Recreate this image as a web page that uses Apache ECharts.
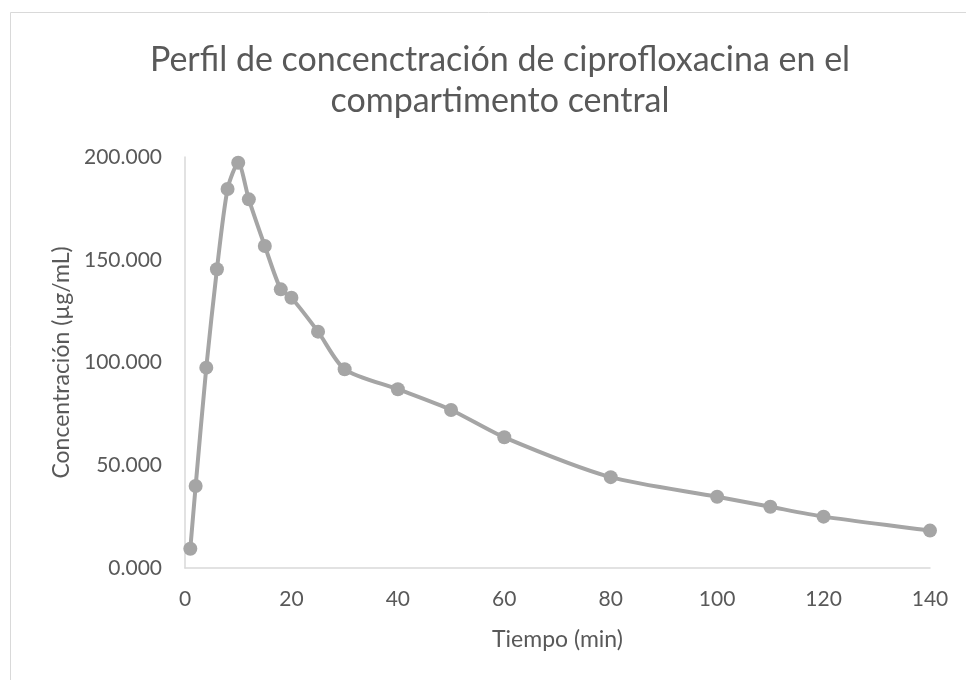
<!DOCTYPE html>
<html>
<head>
<meta charset="utf-8">
<script src="https://cdn.jsdelivr.net/npm/echarts@6/dist/echarts.min.js"></script>
<style>
  html, body { margin: 0; padding: 0; background: #fff; }
  #chart { width: 966px; height: 680px; }
</style>
</head>
<body>
<div id="chart"></div>
<script>
// tiempo (min)
const tiempo = [1, 2, 4, 6, 8, 10, 12, 15, 18, 20, 25, 30, 40, 50, 60, 80, 100, 110, 120, 140]
// concentración (µg/mL)
const concentracion = [9.4, 39.9, 97.5, 145.4, 184.4, 197.2, 179.4, 156.7, 135.6, 131.5, 115.0, 96.7, 87.0, 76.9, 63.6, 44.2, 34.7, 29.8, 25.0, 18.2]

const chart = echarts.init(document.getElementById('chart'))

const fontFamily = 'Lato, "Open Sans", sans-serif'
const textColor = '#595959'

const option = {
  backgroundColor: '#fff',
  animation: false,
  // marco del gráfico
  graphic: [
    {
      type: 'rect',
      shape: { x: 10.5, y: 12.5, width: 970, height: 680 },
      style: { fill: 'none', stroke: '#d9d9d9', lineWidth: 1 },
    },
  ],
  title: {
    text: 'Perfil de concenctración de ciprofloxacina en el\ncompartimento central',
    left: 495,
    top: 35,
    textAlign: 'center',
    textStyle: {
      fontFamily: fontFamily,
      fontWeight: 'normal',
      fontSize: 34,
      lineHeight: 41,
      color: textColor,
    },
  },
  grid: {
    left: 185,
    right: 36,
    top: 157,
    bottom: 112,
  },
  xAxis: {
    type: 'value',
    min: 0,
    max: 140,
    interval: 20,
    name: 'Tiempo (min)',
    nameLocation: 'middle',
    nameGap: 60,
    nameTextStyle: { fontFamily: fontFamily, fontSize: 23, color: textColor },
    axisLine: { show: true, lineStyle: { color: '#d9d9d9', width: 1.5 } },
    axisTick: { show: false },
    splitLine: { show: false },
    axisLabel: {
      fontFamily: fontFamily,
      fontSize: 21,
      color: textColor,
      margin: 21,
    },
  },
  yAxis: {
    type: 'value',
    min: 0,
    max: 200,
    interval: 50,
    name: 'Concentración (µg/mL)',
    nameLocation: 'middle',
    nameGap: 110,
    nameRotate: 90,
    nameTextStyle: { fontFamily: fontFamily, fontSize: 23, color: textColor },
    axisLine: { show: true, lineStyle: { color: '#d9d9d9', width: 1.5 } },
    axisTick: { show: false },
    splitLine: { show: false },
    axisLabel: {
      fontFamily: fontFamily,
      fontSize: 21,
      color: textColor,
      margin: 23,
      formatter: (v) => v.toFixed(3),
    },
  },
  series: [
    {
      type: 'line',
      data: tiempo.map((t, i) => [t, concentracion[i]]),
      smooth: 0.25,
      symbol: 'circle',
      symbolSize: 14,
      lineStyle: { color: '#a5a5a5', width: 4 },
      itemStyle: { color: '#a5a5a5' },
    },
  ],
}

chart.setOption(option)
</script>
</body>
</html>
